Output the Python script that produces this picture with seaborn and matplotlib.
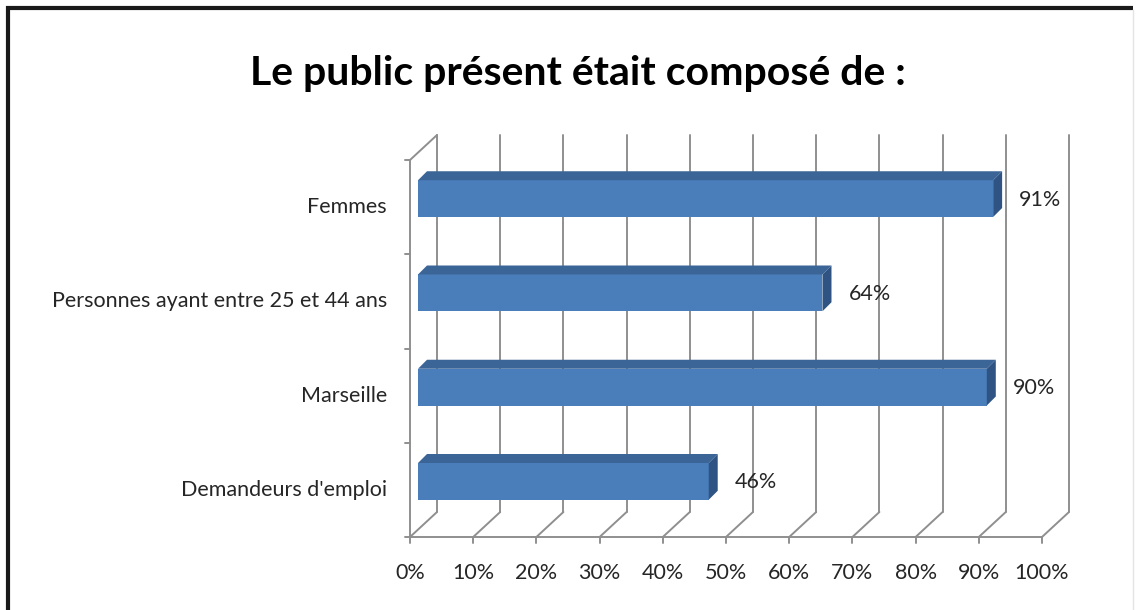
import numpy as np
import pandas as pd
import matplotlib
matplotlib.use("Agg")
import matplotlib.pyplot as plt
import matplotlib.transforms as mtrans
from matplotlib.patches import Polygon
from matplotlib.lines import Line2D
import seaborn as sns

# ---- data ----
categories = ["Femmes", "Personnes ayant entre 25 et 44 ans", "Marseille", "Demandeurs d'emploi"]
values = [0.91, 0.64, 0.90, 0.46]
value_labels = ["91%", "64%", "90%", "46%"]
x_ticks = [0, 0.1, 0.2, 0.3, 0.4, 0.5, 0.6, 0.7, 0.8, 0.9, 1.0]
x_tick_labels = ["0%", "10%", "20%", "30%", "40%", "50%", "60%", "70%", "80%", "90%", "100%"]
title = "Le public présent était composé de :"

df = pd.DataFrame({"cat": categories, "val": values})

sns.set_style("white")
plt.rcParams["font.family"] = ["Lato", "DejaVu Sans"]

W, H = 1136, 610
DPI = 100
fig = plt.figure(figsize=(W / DPI, H / DPI), dpi=DPI)

# front plane of the plot: x 410..1042 px, y 160..537 px (from top)
x0, x1 = 410, 1042
ytop, ybot = 160, 537
ax = fig.add_axes([x0 / W, (H - ybot) / H, (x1 - x0) / W, (ybot - ytop) / H])

FACE = "#4A7EBB"
TOP = "#3C6597"
SIDE = "#2F5483"
GRID = "#8F8F8F"
TXT = "#262626"
FS = 15.5

sns.barplot(data=df, x="val", y="cat", orient="h", width=0.39, color=FACE,
            saturation=1, ax=ax, zorder=3)
ax.set_xlim(0, 1)
ax.set_ylim(len(categories) - 0.5, -0.5)
for s in ax.spines.values():
    s.set_visible(False)
ax.set_xlabel("")
ax.set_ylabel("")
ax.set_xticks([])
ax.set_yticks([])

# depth offsets (pixels)
DX, DY = 27, 25          # full depth of the 3-D box
BX, BY = 8, 8.5          # bar front plane offset
BD = 9                   # bar depth

fig.canvas.draw()
T = ax.transData

gl = dict(color=GRID, lw=1.4, zorder=1, transform=None)
for xv in x_ticks:
    (px, pyb) = T.transform((xv, len(categories) - 0.5))
    (_, pyt) = T.transform((xv, -0.5))
    ax.add_line(Line2D([px + DX, px + DX], [pyb + DY, pyt + DY], **gl))
    ax.add_line(Line2D([px, px + DX], [pyb, pyb + DY], **gl))
    ax.add_line(Line2D([px, px], [pyb, pyb - 6], **gl))

(pl, pb) = T.transform((0, len(categories) - 0.5))
(pr, pt) = T.transform((1, -0.5))
ax.add_line(Line2D([pl, pl], [pb, pt], **gl))
ax.add_line(Line2D([pl, pl + DX], [pt, pt + DY], **gl))
ax.add_line(Line2D([pl, pr], [pb, pb], **gl))
for k in range(len(categories) + 1):
    (_, py) = T.transform((0, k - 0.5))
    ax.add_line(Line2D([pl - 5, pl], [py, py], **gl))

off = mtrans.offset_copy(T, fig=fig, x=BX, y=BY, units="dots")
for p, v, lab in zip(ax.patches, values, value_labels):
    p.set_transform(off)
    p.set_edgecolor("none")
    bx, by, bw, bh = p.get_x(), p.get_y(), p.get_width(), p.get_height()
    (ax_l, ay_t) = T.transform((bx, by))
    (ax_r, ay_b) = T.transform((bx + bw, by + bh))
    ax_l += BX; ax_r += BX; ay_t += BY; ay_b += BY
    top = Polygon([[ax_l, ay_t], [ax_r, ay_t], [ax_r + BD, ay_t + BD], [ax_l + BD, ay_t + BD]],
                  closed=True, facecolor=TOP, edgecolor="none", transform=None, zorder=3)
    side = Polygon([[ax_r, ay_t], [ax_r + BD, ay_t + BD], [ax_r + BD, ay_b + BD], [ax_r, ay_b]],
                   closed=True, facecolor=SIDE, edgecolor="none", transform=None, zorder=3)
    ax.add_patch(top)
    ax.add_patch(side)
    fig.text((ax_r + 26) / W, ((ay_t + ay_b) / 2 - 1) / H, lab, ha="left", va="center",
             fontsize=FS, color=TXT)

for xv, lab in zip(x_ticks, x_tick_labels):
    (px, _) = T.transform((xv, 0))
    fig.text(px / W, (H - 573) / H, lab, ha="center", va="center", fontsize=FS, color=TXT)
for k, c in enumerate(categories):
    (_, py) = T.transform((0, k))
    fig.text(387 / W, py / H, c, ha="right", va="center", fontsize=FS, color=TXT)

fig.text(578 / W, (H - 74) / H, title, ha="center", va="center", fontsize=29.5,
         fontweight="bold", color="black")

# frame
fig.add_artist(Line2D([7.5 / W, 7.5 / W], [0, (H - 6) / H], color="#1a1a1a", lw=3,
                      solid_capstyle="butt", transform=fig.transFigure))
fig.add_artist(Line2D([6 / W, 1133 / W], [(H - 7.5) / H, (H - 7.5) / H], color="#1a1a1a", lw=3,
                      solid_capstyle="butt", transform=fig.transFigure))
fig.add_artist(Line2D([1132.5 / W, 1132.5 / W], [0, (H - 9) / H], color="#e4e4e4", lw=1,
                      solid_capstyle="butt", transform=fig.transFigure))

for a in ax.get_children():
    try:
        a.set_clip_on(False)
    except Exception:
        pass

fig.savefig("out.png", dpi=DPI)
